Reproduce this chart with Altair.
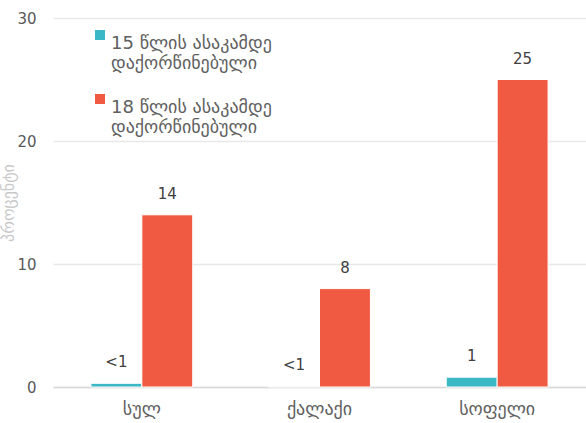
import altair as alt
import pandas as pd

# Child marriage by settlement type, percent of women
areas = ["სულ", "ქალაქი", "სოფელი"]
groups = ["15 წლის ასაკამდე|დაქორწინებული", "18 წლის ასაკამდე|დაქორწინებული"]
under15 = [0.3, 0.05, 0.8]
under18 = [14, 8, 25]
labels15 = ["<1", "<1", "1"]
labels18 = ["14", "8", "25"]
colors = ["#3bb8c6", "#f15a42"]

rows = []
for i, a in enumerate(areas):
    rows.append({"area": a, "group": groups[0], "value": under15[i], "label": labels15[i]})
    rows.append({"area": a, "group": groups[1], "value": under18[i], "label": labels18[i]})
df = pd.DataFrame(rows)

FONT = "DejaVu Sans"

x = alt.X("area:N", sort=areas, title=None,
          scale=alt.Scale(paddingInner=0, paddingOuter=0),
          axis=alt.Axis(labelAngle=0, labelFontSize=18, labelColor="#606060",
                        labelFont=FONT, labelPadding=13, ticks=False,
                        domainColor="#d9d9d9", domainWidth=1.5))
xoff = alt.XOffset("group:N", sort=groups,
                   scale=alt.Scale(paddingInner=0, paddingOuter=0.745))
y = alt.Y("value:Q", title="პროცენტი",
          scale=alt.Scale(domain=[0, 30], nice=False),
          axis=alt.Axis(values=[0, 10, 20, 30], labelFontSize=15, labelColor="#595959",
                        labelFont=FONT, labelPadding=17, ticks=False, domain=False,
                        gridColor="#e8e8e8", gridWidth=1.5,
                        titleFontSize=16, titleColor="#c8c8c8", titleFont=FONT,
                        titleFontWeight="normal", titleX=-37))

bars = alt.Chart(df).mark_bar(stroke="white", strokeWidth=1).encode(
    x=x, xOffset=xoff, y=y,
    color=alt.Color("group:N", sort=groups,
                    scale=alt.Scale(domain=groups, range=colors),
                    legend=alt.Legend(title=None, orient="none", legendX=38, legendY=8,
                                      labelExpr="split(datum.label, '|')",
                                      labelFont=FONT, labelFontSize=18,
                                      labelColor="#606060", labelLimit=300,
                                      symbolType="square", symbolSize=100,
                                      symbolStrokeWidth=0, labelOffset=2,
                                      labelBaseline="top", rowPadding=17)),
)

text = alt.Chart(df).mark_text(baseline="bottom", dy=-13, fontSize=15,
                               color="#404040", font=FONT).encode(
    x=alt.X("area:N", sort=areas), xOffset=xoff, y=alt.Y("value:Q"),
    text="label:N",
)

chart = (bars + text).properties(
    width=533, height=369,
    autosize=alt.AutoSizeParams(type="none"),
    padding={"left": 53, "top": 18, "right": 0, "bottom": 36},
).configure_view(stroke=None)

chart.save("out.html", embed_options={"renderer": "svg", "actions": False})
